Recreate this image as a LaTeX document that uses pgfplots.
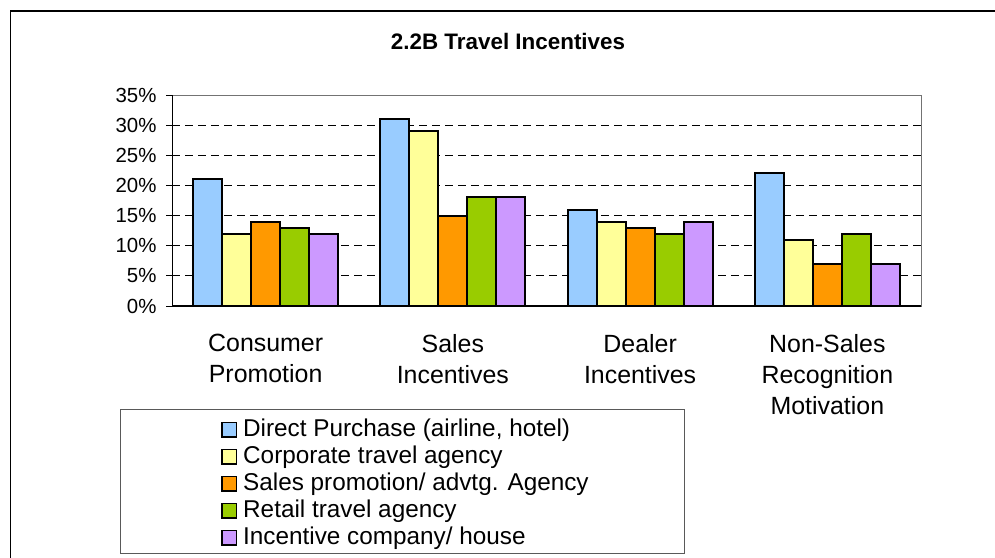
\documentclass[border=0pt]{standalone}
\usepackage{pgfplots}
\pgfplotsset{compat=1.18}
\usepackage{fontspec}
\setmainfont{Liberation Sans}
\definecolor{cA}{HTML}{99CCFF}
\definecolor{cB}{HTML}{FFFF99}
\definecolor{cC}{HTML}{FF9900}
\definecolor{cD}{HTML}{99CC00}
\definecolor{cE}{HTML}{CC99FF}
\begin{document}
\begin{tikzpicture}[x=1bp,y=1bp]
\useasboundingbox (0,0) rectangle (995,-558);
\begin{scope}
\clip (0,0) rectangle (995,-558);
\draw[line width=1.2bp] (10.5,-570) -- (10.5,-11) -- (1010,-11);
\end{scope}
\node[font=\bfseries\fontsize{22.5}{27}\selectfont] at (508,-41) {2.2B Travel Incentives};
\draw[black!65, line width=1bp] (120,-409) rectangle (684,-553);
\begin{axis}[
  at={(172bp,-306bp)}, anchor=south west,
  scale only axis, width=749bp, height=211bp,
  xmin=-0.5, xmax=3.5, ymin=0, ymax=35,
  ybar=0pt, bar width=29bp,
  xtick=data,
  xticklabels={{Consumer\\Promotion},{Sales\\Incentives},{Dealer\\Incentives},{Non-Sales\\Recognition\\Motivation}},
  xticklabel style={align=center, font=\fontsize{25}{31}\selectfont, yshift=-19bp},
  xtick style={draw=none},
  ytick={0,5,...,35},
  yticklabel={\pgfmathprintnumber{\tick}\%},
  yticklabel style={font=\fontsize{20.5}{24}\selectfont, xshift=-6bp},
  /pgf/number format/assume math mode=true,
  tick align=outside, tick pos=left,
  major tick length=6bp,
  ytick style={draw=black, line width=1bp},
  ymajorgrids,
  grid style={black, dash pattern=on 8bp off 5bp, line width=0.8bp},
  axis line style={draw=black!55, line width=1bp},
  legend cell align=left,
  legend image code/.code={\draw[#1, draw=black, line width=1.6bp] (0.8bp,-8.2bp) rectangle (15.2bp,6.2bp);},
  legend style={at={(axis description cs:0.0654,-0.5166)}, anchor=north west,
    draw=none, fill=none, inner sep=0pt, row sep=0pt,
    font=\fontsize{24.4}{27}\selectfont,
    nodes={inner xsep=0pt, inner ysep=0pt, text height=21bp, text depth=6bp},
    /tikz/every odd column/.append style={column sep=6bp}},
]
\addplot[fill=cA, draw=black, line width=2bp] coordinates {(0,21) (1,31) (2,16) (3,22)};
\addplot[fill=cB, draw=black, line width=2bp] coordinates {(0,12) (1,29) (2,14) (3,11)};
\addplot[fill=cC, draw=black, line width=2bp] coordinates {(0,14) (1,15) (2,13) (3,7)};
\addplot[fill=cD, draw=black, line width=2bp] coordinates {(0,13) (1,18) (2,12) (3,12)};
\addplot[fill=cE, draw=black, line width=2bp] coordinates {(0,12) (1,18) (2,14) (3,7)};
\legend{Direct Purchase (airline{,} hotel),Corporate travel agency,Sales promotion/ advtg. Agency,Retail travel agency,Incentive company/ house}
\draw[black, line width=1.2bp] (rel axis cs:0,1) -- (rel axis cs:0,0) -- (rel axis cs:1,0);
\end{axis}
\end{tikzpicture}
\end{document}
